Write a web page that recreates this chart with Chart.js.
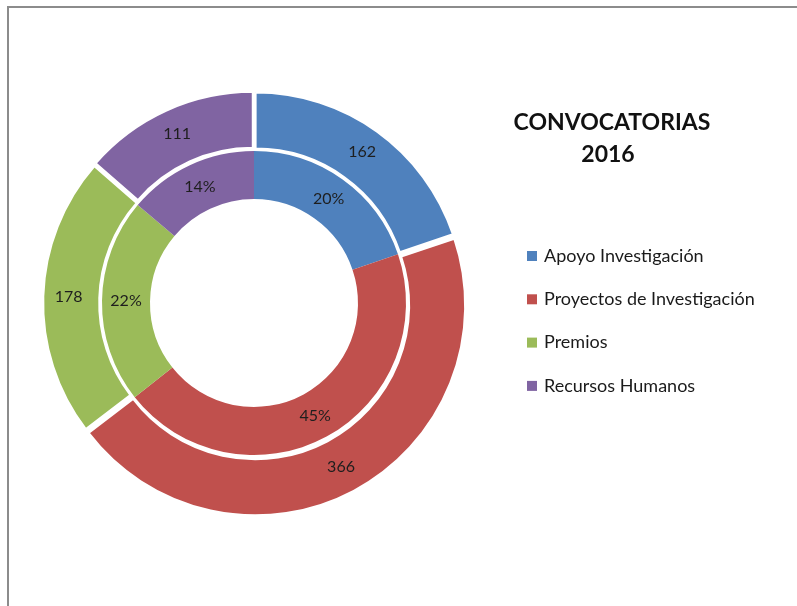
<!DOCTYPE html>
<html>
<head>
<meta charset="utf-8">
<script src="https://cdn.jsdelivr.net/npm/chart.js@4/dist/chart.umd.min.js"></script>
<style>
    html, body { margin: 0; padding: 0; background: #fff; }
    #wrap { position: relative; width: 797px; height: 606px; overflow: hidden; }
    #frame { position: absolute; left: 7px; top: 6px; width: 800px; height: 610px;
             border-left: 2px solid #8c8c8c; border-top: 2px solid #8c8c8c; }
    #chart { position: absolute; left: 0; top: 0; }
</style>
</head>
<body>
<div id="wrap">
    <div id="frame"></div>
    <canvas id="chart" width="797" height="606"></canvas>
</div>
<script>
// Data
const categories = ['Apoyo Investigación', 'Proyectos de Investigación', 'Premios', 'Recursos Humanos'];
const counts = [162, 366, 178, 111];
const percentages = [20, 45, 22, 14];
const titleLines = ['CONVOCATORIAS', '2016'];

const colors = ['#4f81bd', '#c0504d', '#9bbb59', '#8064a2'];
const FONT = 'Lato, "Open Sans", sans-serif';

// Draw the value labels on each ring
const dataLabelsPlugin = {
    id: 'dataLabels',
    afterDatasetsDraw(chart) {
        const { ctx } = chart;
        chart.data.datasets.forEach((dataset, i) => {
            const meta = chart.getDatasetMeta(i);
            meta.data.forEach((element, index) => {
                const { x, y } = element.tooltipPosition();
                const v = dataset.data[index];
                ctx.save();
                ctx.font = '16px ' + FONT;
                ctx.fillStyle = '#1e1e1e';
                ctx.textAlign = 'center';
                ctx.textBaseline = 'middle';
                ctx.fillText(i === 1 ? v + '%' : String(v), x, y);
                ctx.restore();
            });
        });
    }
};

// Title and legend on the right side
const sidePlugin = {
    id: 'sidePanel',
    afterDraw(chart) {
        const { ctx } = chart;
        ctx.save();
        ctx.fillStyle = '#111';
        ctx.font = 'bold 23px ' + FONT;
        ctx.textAlign = 'center';
        ctx.textBaseline = 'middle';
        ctx.fillText(titleLines[0], 612, 123);
        ctx.fillText(titleLines[1], 608, 155);

        ctx.font = '18px ' + FONT;
        ctx.textAlign = 'left';
        categories.forEach((label, i) => {
            const y = 256 + i * 43.3;
            ctx.fillStyle = colors[i];
            ctx.fillRect(527, y - 5, 10, 10);
            ctx.fillStyle = '#1a1a1a';
            ctx.fillText(label, 544, y);
        });
        ctx.restore();
    }
};

new Chart(document.getElementById('chart'), {
    type: 'doughnut',
    data: {
        labels: categories,
        datasets: [{
            data: counts,
            backgroundColor: colors,
            borderColor: '#ffffff',
            borderWidth: 2,
            offset: 11,
            weight: 7
        }, {
            data: percentages,
            backgroundColor: colors,
            borderWidth: 0,
            offset: 0,
            weight: 6
        }]
    },
    options: {
        responsive: false,
        animation: false,
        devicePixelRatio: 1,
        radius: 208,
        cutout: '50%',
        layout: { padding: { left: 34, right: 323, top: 83, bottom: 83 } },
        plugins: {
            legend: { display: false },
            tooltip: { enabled: false }
        }
    },
    plugins: [dataLabelsPlugin, sidePlugin]
});
</script>
</body>
</html>
